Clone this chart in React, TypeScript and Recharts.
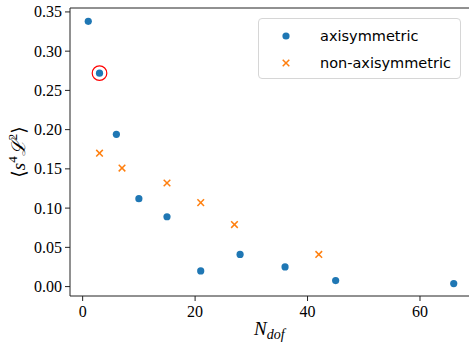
import React from "react";
import { ScatterChart, Scatter, XAxis, YAxis, Legend, ReferenceLine } from "recharts";

const axisymN = [1, 3, 6, 10, 15, 21, 28, 36, 45, 66];
const axisymV = [0.338, 0.272, 0.194, 0.112, 0.089, 0.020, 0.041, 0.025, 0.0077, 0.0038];
const nonAxisN = [3, 7, 15, 21, 27, 42];
const nonAxisV = [0.170, 0.151, 0.132, 0.107, 0.079, 0.041];
const highlightN = [3];
const highlightV = [0.272];
const xTicks = [0, 20, 40, 60];
const yTicks = [0, 0.05, 0.1, 0.15, 0.2, 0.25, 0.3, 0.35];
const seriesNames = ["axisymmetric", "non-axisymmetric"];
const xDomain = [-2.25, 69.25];
const yDomain = [-0.012, 0.355];

const BLUE = "#1f77b4";
const ORANGE = "#ff7f0e";
const SERIF = "Liberation Serif, DejaVu Serif, serif";
const SANS = "DejaVu Sans, sans-serif";

const axisymData = axisymN.map((x, i) => ({ x, y: axisymV[i] }));
const nonAxisData = nonAxisN.map((x, i) => ({ x, y: nonAxisV[i] }));
const highlightData = highlightN.map((x, i) => ({ x, y: highlightV[i] }));

const Dot = (p: any) => <circle cx={p.cx} cy={p.cy} r={3.6} fill={BLUE} />;
const Cross = (p: any) => {
  const s = 3.3;
  return (
    <g stroke={ORANGE} strokeWidth={1.5}>
      <line x1={p.cx - s} y1={p.cy - s} x2={p.cx + s} y2={p.cy + s} />
      <line x1={p.cx - s} y1={p.cy + s} x2={p.cx + s} y2={p.cy - s} />
    </g>
  );
};
const Ring = (p: any) => <circle cx={p.cx} cy={p.cy} r={7.3} fill="none" stroke="#ff0000" strokeWidth={1.2} />;

const XTick = (p: any) => (
  <text x={p.x} y={p.y + 11} textAnchor="middle" fontFamily={SERIF} fontSize={16} fill="#000">
    {p.payload.value}
  </text>
);
const YTick = (p: any) => (
  <text x={p.x} y={p.y + 5.5} textAnchor="end" fontFamily={SERIF} fontSize={16} fill="#000">
    {Number(p.payload.value).toFixed(2)}
  </text>
);

const renderLegend = () => (
  <div
    style={{
      width: 201,
      height: 59,
      border: "1px solid #d6d6d6",
      borderRadius: 4,
      background: "rgba(255,255,255,0.8)",
      fontFamily: SANS,
      fontSize: 14.5,
      color: "#000",
      position: "relative",
    }}
  >
    {seriesNames.map((name, i) => (
      <div key={name} style={{ position: "absolute", left: 0, top: 7 + i * 27, height: 20, width: 201 }}>
        <svg width={20} height={20} style={{ position: "absolute", left: 17, top: 0 }}>
          {i === 0 ? (
            <circle cx={10} cy={10} r={3.6} fill={BLUE} />
          ) : (
            <g stroke={ORANGE} strokeWidth={1.5}>
              <line x1={6.7} y1={6.7} x2={13.3} y2={13.3} />
              <line x1={6.7} y1={13.3} x2={13.3} y2={6.7} />
            </g>
          )}
        </svg>
        <span style={{ position: "absolute", left: 61, top: 0, lineHeight: "20px", whiteSpace: "nowrap" }}>{name}</span>
      </div>
    ))}
  </div>
);

const XLabel = (props: any) => {
  const vb = props.viewBox || {};
  const cx = vb.x + vb.width / 2;
  return (
    <text x={cx - 17} y={335} fontFamily={SERIF} fontSize={19} fontStyle="italic" fill="#000">
      N
      <tspan fontSize={14} dy={4}>dof</tspan>
    </text>
  );
};

const YLabel = (props: any) => {
  const vb = props.viewBox || {};
  const cy = vb.y + vb.height / 2;
  return (
    <text
      x={0}
      y={0}
      transform={`translate(25, ${cy}) rotate(-90)`}
      textAnchor="middle"
      fontFamily={SERIF}
      fontSize={19}
      fill="#000"
    >
      ⟨<tspan fontStyle="italic">s</tspan>
      <tspan fontSize={13} dy={-8}>4</tspan>
      <tspan fontStyle="italic" dy={8}>ℒ</tspan>
      <tspan fontSize={13} dy={-8}>2</tspan>
      <tspan dy={8}>⟩</tspan>
    </text>
  );
};

export default function App() {
  return (
    <div style={{ position: "absolute", left: 0, top: 0, width: 469, height: 343, overflow: "hidden", background: "#fff" }}>
      <ScatterChart width={472} height={343} margin={{ top: 8, right: 0, left: 0, bottom: 0 }}>
        <XAxis
          xAxisId="b"
          type="number"
          dataKey="x"
          domain={xDomain}
          ticks={xTicks}
          allowDataOverflow
          height={47}
          tickSize={5}
          tickMargin={5}
          axisLine={{ stroke: "#222", strokeWidth: 1 }}
          tickLine={{ stroke: "#222", strokeWidth: 1 }}
          tick={<XTick />}
          label={{ content: <XLabel /> }}
        />
        <YAxis
          yAxisId="l"
          type="number"
          dataKey="y"
          domain={yDomain}
          ticks={yTicks}
          allowDataOverflow
          width={70}
          tickSize={5}
          tickMargin={3}
          axisLine={{ stroke: "#222", strokeWidth: 1 }}
          tickLine={{ stroke: "#222", strokeWidth: 1 }}
          tick={<YTick />}
          label={{ content: <YLabel /> }}
        />
        <ReferenceLine xAxisId="b" yAxisId="l" y={yDomain[1]} stroke="#222" strokeWidth={1} ifOverflow="extendDomain" />
        <Legend
          layout="horizontal"
          verticalAlign="middle"
          align="center"
          content={renderLegend}
          wrapperStyle={{ position: "absolute", top: 18, left: 258, width: 203, height: 61 }}
        />
        <Scatter name={seriesNames[0]} data={axisymData} xAxisId="b" yAxisId="l" shape={Dot} isAnimationActive={false} />
        <Scatter name={seriesNames[1]} data={nonAxisData} xAxisId="b" yAxisId="l" shape={Cross} isAnimationActive={false} />
        <Scatter name="highlight" data={highlightData} xAxisId="b" yAxisId="l" shape={Ring} isAnimationActive={false} legendType="none" />
      </ScatterChart>
    </div>
  );
}
